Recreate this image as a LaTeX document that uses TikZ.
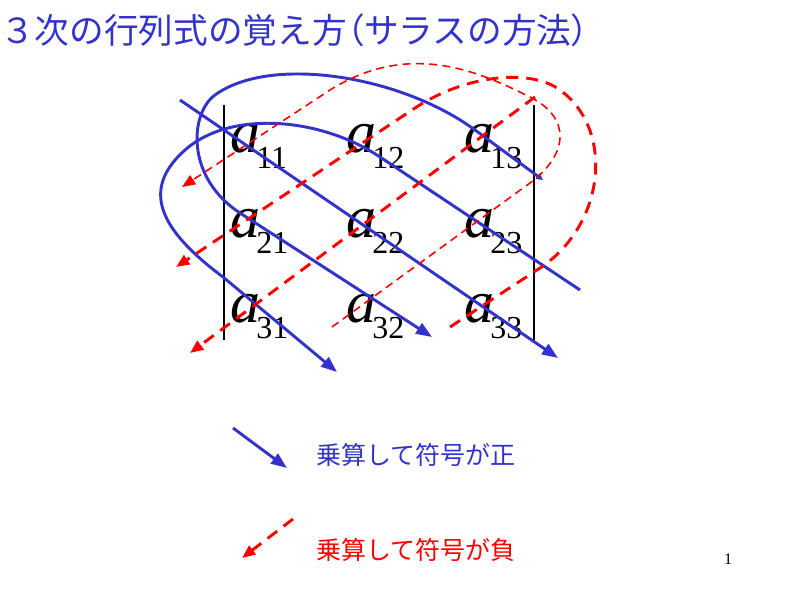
\documentclass[tikz,border=0pt]{standalone}
\usepackage{fontspec}
\setmainfont{Liberation Serif}
\newfontfamily\jp{Noto Sans CJK JP}
\newfontfamily\jpp[RawFeature=+palt]{Noto Sans CJK JP}
\usetikzlibrary{arrows.meta}
\definecolor{sblue}{HTML}{3333CC}
\definecolor{sred}{HTML}{FF0000}
\newcommand\matent[1]{{\fontsize{45}{45}\selectfont\itshape a}\kern-3pt\raisebox{-12pt}{\fontsize{24}{24}\selectfont #1}}
\begin{document}
\begin{tikzpicture}[x=0.75pt,y=-0.75pt,
  bl/.style={draw=sblue, line width=2.2pt},
  blarrow/.style={bl, -{Triangle[length=12pt,width=9pt]}},
  rthick/.style={draw=sred, line width=2.2pt, dash pattern=on 9pt off 6pt},
  rthin/.style={draw=sred, line width=1.2pt, dash pattern=on 6pt off 4pt},
  rtip/.style={-{Triangle[length=10pt,width=8pt]}},
  mbar/.style={draw=black, line width=2.2pt},
  ent/.style={anchor=base west, inner sep=0pt},
]
\useasboundingbox (0,0) rectangle (800,600);
% title
\node[anchor=west, inner sep=0pt, text=sblue] (title) at (0,30)
  {\fontsize{26}{26}\selectfont\jp ３次の行列式の覚え方{\jpp（}サラスの方法{\jpp）}};
% matrix bars
\coordinate (lt) at (224,105); \coordinate (lb) at (224,340);
\coordinate (rt) at (534,105); \coordinate (rb) at (534,340);
\draw[mbar] (lt) -- (lb);
\draw[mbar] (rt) -- (rb);
% entries
\node[ent] (a11) at (230,152) {\matent{11}};
\node[ent] (a12) at (346,152) {\matent{12}};
\node[ent] (a13) at (464,152) {\matent{13}};
\node[ent] (a21) at (230,237) {\matent{21}};
\node[ent] (a22) at (346,237) {\matent{22}};
\node[ent] (a23) at (464,237) {\matent{23}};
\node[ent] (a31) at (230,322) {\matent{31}};
\node[ent] (a32) at (346,322) {\matent{32}};
\node[ent] (a33) at (464,322) {\matent{33}};
% blue (positive) lines
\coordinate (bAs) at (180,100); \coordinate (bAe) at (558,358);
\draw[blarrow] (bAs) -- (bAe);
\coordinate (bBs) at (580,290); \coordinate (bBe) at (337,372);
\draw[blarrow] (bBs) -- (380,157) .. controls (320,117) and (230,110) .. (185,150)
  .. controls (140,190) and (160,230) .. (223,277) -- (bBe);
\coordinate (bCs) at (543,180); \coordinate (bCe) at (432,337);
\draw[bl, {Triangle[length=5pt,width=5pt]}-{Triangle[length=12pt,width=9pt]}]
  (bCs) -- (475,130) .. controls (400,75) and (270,55) .. (215,95)
  .. controls (190,113) and (185,177) .. (240,213) -- (bCe);
% red (negative) lines
\coordinate (rAs) at (535,97); \coordinate (rAe) at (190,353);
\draw[rthick, rtip] (rAs) -- (rAe);
\coordinate (rBs) at (332,327); \coordinate (rBe) at (182,187);
\draw[rthin, rtip] (rBs) -- (530,183) .. controls (568,155) and (572,118) .. (530,97)
  .. controls (480,72) and (410,40) .. (330,90) -- (rBe);
\coordinate (rCs) at (450,327); \coordinate (rCe) at (176,267);
\draw[rthick, rtip] (rCs) -- (540,268) .. controls (605,225) and (615,130) .. (560,90)
  .. controls (530,68) and (465,75) .. (415,108) -- (rCe);
% legend
\coordinate (lgBs) at (233,428); \coordinate (lgBe) at (287,468);
\draw[blarrow] (lgBs) -- (lgBe);
\node[anchor=west, inner sep=0pt, text=sblue] (lgBt) at (316,455)
  {\fontsize{18.75}{18.75}\selectfont\jp 乗算して符号が正};
\coordinate (lgRs) at (293,519); \coordinate (lgRe) at (242,558);
\draw[rthick, rtip] (lgRs) -- (lgRe);
\node[anchor=west, inner sep=0pt, text=sred] (lgRt) at (316,550)
  {\fontsize{18.75}{18.75}\selectfont\jp 乗算して符号が負};
% page number
\node[inner sep=0pt] (pnum) at (728,559) {\fontsize{12}{12}\selectfont 1};
\end{tikzpicture}
\end{document}
